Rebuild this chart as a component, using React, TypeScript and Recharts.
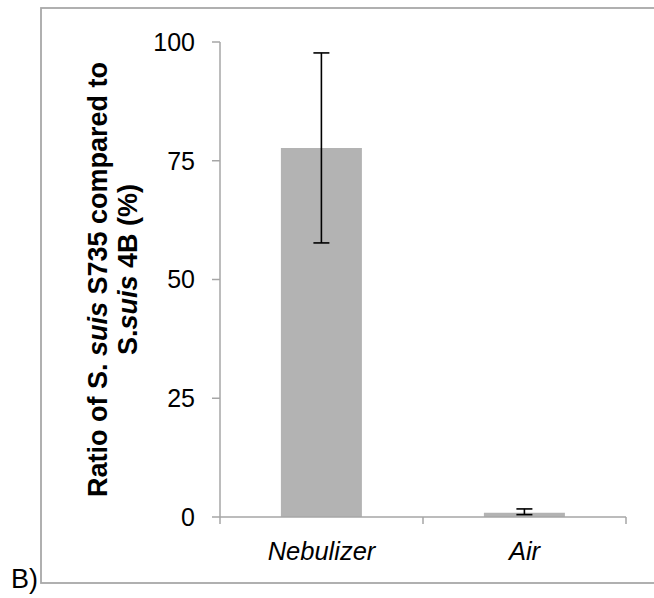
import React from 'react';
import { BarChart, Bar, XAxis, YAxis, ErrorBar } from 'recharts';

const categories = ['Nebulizer', 'Air'];
const ratioValues = [77.7, 0.9];
const errorLow = [20, 0.4];
const errorHigh = [20, 0.8];
const yTicks = [0, 25, 50, 75, 100];
const panelLabel = 'B)';

const data = categories.map((c, i) => ({
  name: c,
  value: ratioValues[i],
  err: [errorLow[i], errorHigh[i]],
}));

const FONT = '"Liberation Sans", Arial, sans-serif';
const AXIS = '#a6a6a6';

const XTick = (props: any) => {
  const { x, y, payload, index, visibleTicksCount, width } = props;
  const half = payload && payload.offset ? payload.offset : width / (2 * categories.length);
  const isLast = index === (visibleTicksCount ?? categories.length) - 1;
  return (
    <g>
      <line x1={x - half} y1={y} x2={x - half} y2={y + 7} stroke={AXIS} strokeWidth={1.5} />
      {isLast && <line x1={x + half} y1={y} x2={x + half} y2={y + 7} stroke={AXIS} strokeWidth={1.5} />}
      <text x={x} y={y + 43} textAnchor="middle" fontStyle="italic" fontSize={25.5} fontFamily={FONT} fill="#000">
        {payload.value}
      </text>
    </g>
  );
};

const YTitle = (props: any) => {
  const vb = props.viewBox || { x: 0, y: 42, width: 220, height: 475 };
  const cy = vb.y + vb.height / 2;
  const common = { fontSize: 27, fontWeight: 700, fontFamily: FONT, fill: '#000', textAnchor: 'middle' as const };
  return (
    <g>
      <text {...common} transform={`translate(107, ${cy}) rotate(-90)`}>
        Ratio of S. <tspan fontStyle="italic">suis</tspan> S735 compared to
      </text>
      <text {...common} transform={`translate(137, ${cy - 10}) rotate(-90)`}>
        S.<tspan fontStyle="italic">suis</tspan> 4B (%)
      </text>
    </g>
  );
};

export default function App() {
  return (
    <div style={{ position: 'absolute', left: 0, top: 0, width: 654, height: 598, overflow: 'hidden', background: '#fff' }}>
      <svg width={654} height={598} style={{ position: 'absolute', left: 0, top: 0 }}>
        <rect x={41} y={8} width={700} height={575} fill="none" stroke="#a8a8a8" strokeWidth={1.8} />
        <text x={11} y={588} fontSize={27} fontFamily={FONT} fill="#000">{panelLabel}</text>
      </svg>
      <div style={{ position: 'absolute', left: 0, top: 0 }}>
        <BarChart width={654} height={598} data={data} margin={{ top: 42, right: 28, bottom: 51, left: 0 }} barCategoryGap="30%">
          <XAxis
            dataKey="name"
            height={30}
            axisLine={{ stroke: AXIS, strokeWidth: 1.5 }}
            tickLine={false}
            tickSize={0}
            tickMargin={0}
            tick={<XTick />}
            interval={0}
          />
          <YAxis
            width={220}
            domain={[0, 100]}
            ticks={yTicks}
            interval={0}
            axisLine={{ stroke: AXIS, strokeWidth: 1.5 }}
            tickLine={{ stroke: AXIS, strokeWidth: 1.5 }}
            tickSize={8}
            tickMargin={17}
            tick={{ fontSize: 25, fontFamily: FONT, fill: '#000' }}
            label={<YTitle />}
          />
          <Bar dataKey="value" fill="#b3b3b3" isAnimationActive={false}>
            <ErrorBar dataKey="err" width={8} stroke="#000" strokeWidth={1.6} />
          </Bar>
        </BarChart>
      </div>
    </div>
  );
}
